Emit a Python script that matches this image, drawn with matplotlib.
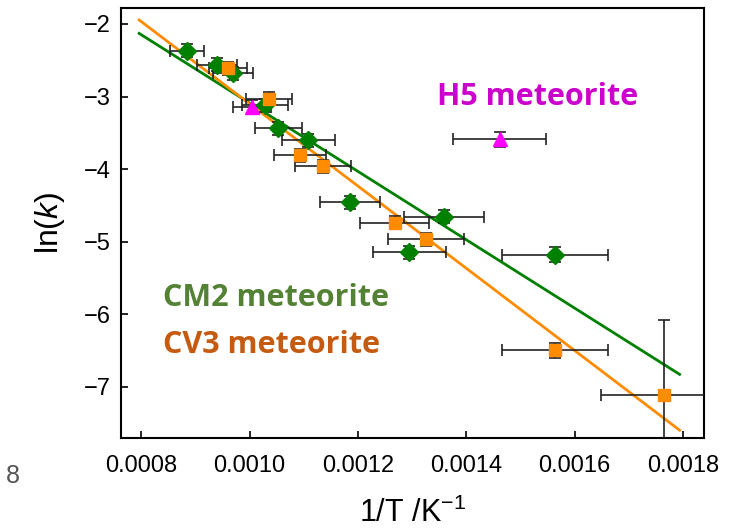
import numpy as np
import matplotlib.pyplot as plt

# CM2 meteorite (green diamonds)
cm2_x = [0.000884, 0.000939, 0.000969, 0.001028, 0.001053, 0.001108, 0.001185, 0.001359, 0.001295, 0.001564]
cm2_y = [-2.37, -2.56, -2.68, -3.12, -3.44, -3.60, -4.46, -4.66, -5.15, -5.18]
cm2_xerr = [0.000031, 0.000037, 0.000037, 0.000042, 0.000044, 0.000049, 0.000055, 0.000074, 0.000067, 0.000098]
cm2_yerr = [0.09, 0.09, 0.09, 0.09, 0.09, 0.09, 0.09, 0.09, 0.09, 0.1]

# CV3 meteorite (orange squares)
cv3_x = [0.000960, 0.001036, 0.001093, 0.001136, 0.001268, 0.001325, 0.001564, 0.001765]
cv3_y = [-2.61, -3.03, -3.81, -3.96, -4.74, -4.97, -6.50, -7.11]
cv3_xerr = [0.000035, 0.000043, 0.000048, 0.000052, 0.000064, 0.000070, 0.000098, 0.000116]
cv3_yerr = [0.09, 0.09, 0.09, 0.09, 0.09, 0.09, 0.1, 1.03]

# H5 meteorite (magenta triangles)
h5_x = [0.001004, 0.001462]
h5_y = [-3.14, -3.59]
h5_xerr = [0.000035, 0.000086]
h5_yerr = [0.09, 0.1]

# fitted Arrhenius lines: (x_start, x_end), (y_start, y_end)
fit_x = [0.000796, 0.001794]
cm2_fit_y = [-2.13, -6.83]
cv3_fit_y = [-1.945, -7.60]

plt.rcParams['mathtext.fontset'] = 'custom'
plt.rcParams['mathtext.it'] = 'Liberation Sans:italic'
plt.rcParams['mathtext.rm'] = 'Liberation Sans'

fig = plt.figure(figsize=(7.43, 5.32), dpi=100)
ax = fig.add_axes([0.1625, 0.1762, 0.785, 0.8082])

ax.plot(fit_x, cm2_fit_y, color='#008000', lw=2, zorder=2)
ax.plot(fit_x, cv3_fit_y, color='#FF8C00', lw=2, zorder=2)

ekw = dict(ls='none', ecolor='#222222', elinewidth=1.2, capsize=4, capthick=1.2, zorder=3)
ax.errorbar(cm2_x, cm2_y, xerr=cm2_xerr, yerr=cm2_yerr, marker='D', ms=9,
            mfc='#008000', mec='#008000', **ekw)
ax.errorbar(cv3_x, cv3_y, xerr=cv3_xerr, yerr=cv3_yerr, marker='s', ms=9,
            mfc='#FF8C00', mec='#FF8C00', **ekw)
ax.errorbar(h5_x, h5_y, xerr=h5_xerr, yerr=h5_yerr, marker='^', ms=10,
            mfc='#FF00FF', mec='#FF00FF', **ekw)

ax.set_xlim(0.000762, 0.001839)
ax.set_ylim(-7.711, -1.784)
ax.set_xticks([0.0008, 0.0010, 0.0012, 0.0014, 0.0016, 0.0018])
ax.set_xticklabels(['0.0008', '0.0010', '0.0012', '0.0014', '0.0016', '0.0018'])
ax.set_yticks([-2, -3, -4, -5, -6, -7])
ax.set_yticklabels(['\u22122', '\u22123', '\u22124', '\u22125', '\u22126', '\u22127'])

for lab in ax.get_xticklabels() + ax.get_yticklabels():
    lab.set_fontfamily('Liberation Sans')
    lab.set_fontsize(17)
ax.tick_params(axis='x', pad=12)
ax.tick_params(axis='y', pad=7)
ax.tick_params(direction='in', length=5, width=1.2, top=False, right=False)
for s in ax.spines.values():
    s.set_linewidth(1.5)

ax.set_ylabel('ln($\\mathit{k}$)', fontsize=23, fontfamily='Liberation Sans', labelpad=12)
ax.set_xlabel('1/T /K$^{\\mathregular{-1}}$', fontsize=22, fontfamily='Liberation Sans', labelpad=15)

ax.text(0.001532, -3.0, 'H5 meteorite', color='#CC00CC', fontsize=22,
        fontweight='bold', fontfamily='Open Sans', ha='center', va='center')
ax.text(0.000840, -5.78, 'CM2 meteorite', color='#548235', fontsize=22,
        fontweight='bold', fontfamily='Open Sans', ha='left', va='center')
ax.text(0.000840, -6.43, 'CV3 meteorite', color='#C55A11', fontsize=22,
        fontweight='bold', fontfamily='Open Sans', ha='left', va='center')

# stray label from the neighbouring panel
fig.text(0.008, 0.105, '8', fontsize=18, color='#555555', fontfamily='Liberation Sans',
         ha='left', va='center')

fig.savefig('out.png', dpi=100)
